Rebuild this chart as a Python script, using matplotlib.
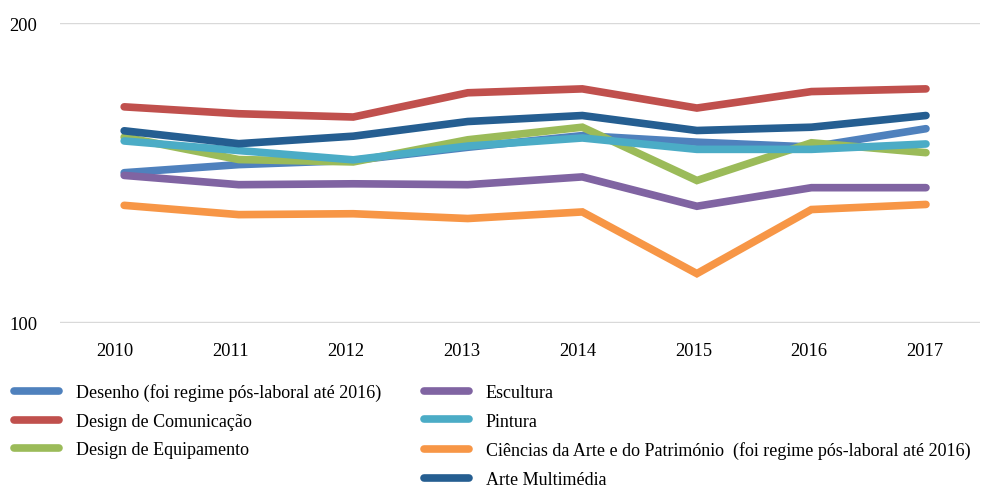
import matplotlib.pyplot as plt
from matplotlib.lines import Line2D
from matplotlib.transforms import ScaledTranslation

plt.rcParams['font.family'] = ['Liberation Serif', 'DejaVu Serif']

years = [2010, 2011, 2012, 2013, 2014, 2015, 2016, 2017]

desenho = [150.0, 152.7, 154.1, 158.5, 162.4, 160.2, 158.6, 164.7]
design_comunicacao = [172.0, 169.7, 168.6, 176.7, 178.0, 171.6, 177.1, 178.0]
design_equipamento = [161.9, 154.4, 153.6, 161.0, 165.2, 147.4, 160.0, 156.7]
escultura = [149.1, 146.0, 146.3, 146.0, 148.6, 138.8, 145.0, 145.0]
pintura = [160.6, 157.4, 154.3, 158.9, 161.6, 157.8, 157.8, 159.6]
ciencias_arte = [139.1, 136.0, 136.3, 134.7, 136.9, 116.3, 137.7, 139.4]
arte_multimedia = [164.0, 159.7, 162.2, 167.1, 169.1, 164.1, 165.2, 169.1]

series = [
    ("Desenho (foi regime pós-laboral até 2016)", desenho, "#4F81BD"),
    ("Design de Comunicação", design_comunicacao, "#C0504D"),
    ("Design de Equipamento", design_equipamento, "#9BBB59"),
    ("Escultura", escultura, "#8064A2"),
    ("Pintura", pintura, "#4BACC6"),
    ("Ciências da Arte e do Património  (foi regime pós-laboral até 2016)", ciencias_arte, "#F79646"),
    ("Arte Multimédia", arte_multimedia, "#255E91"),
]

fs = 13.3
leg_fs = 13

fig = plt.figure(figsize=(9.89, 4.89), dpi=100)
ax = fig.add_axes([0.0607, 0.3374, 0.93, 0.6135])

handles = []
for label, vals, color in series:
    ln, = ax.plot(years, vals, color=color, lw=5.5, solid_capstyle='round',
                  solid_joinstyle='miter', label=label)
    handles.append(ln)

ax.set_ylim(99.8, 200)
ax.set_yticks([100, 200])
ax.set_xlim(2009.44, 2017.47)
ax.set_xticks(years)
ax.grid(axis='y', color='#D9D9D9', lw=1)
ax.set_axisbelow(True)
for s in ax.spines.values():
    s.set_visible(False)
ax.tick_params(length=0, labelsize=fs, colors='black')
ax.tick_params(axis='x', pad=14)
ax.tick_params(axis='y', pad=16.5)

# the year labels sit slightly left of the points, more so on the left
for i, lab in enumerate(ax.get_xticklabels()):
    dx = (-9.5 + i * 8.5 / 7) / 100
    lab.set_transform(lab.get_transform() + ScaledTranslation(dx, 0, fig.dpi_scale_trans))

# blank entry so the first column holds three items
blank = Line2D([], [], color='none')
order = handles[:3] + [blank] + handles[3:]
labels = [h.get_label() for h in handles[:3]] + [""] + [h.get_label() for h in handles[3:]]
leg = fig.legend(order, labels, loc='upper left', bbox_to_anchor=(0.0142, 0.214),
                 ncol=2, frameon=False, fontsize=leg_fs, handlelength=2.49,
                 handletextpad=0.94, columnspacing=2.35, labelspacing=0.64,
                 borderaxespad=0, borderpad=0)
for h in leg.legend_handles:
    h.set_solid_capstyle('round')

fig.savefig("out.png", dpi=100)
